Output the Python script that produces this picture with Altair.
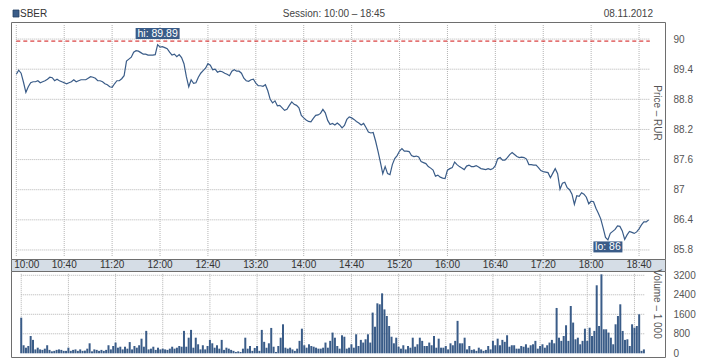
import altair as alt
import pandas as pd

# ---------------- data ----------------
symbol = "SBER"
session_label = "Session: 10:00 – 18:45"
date_label = "08.11.2012"
trade_day = "2012-11-08"
series_start = "10:00"
step_minutes = 2

prices = [
    89.30, 89.38, 89.32, 89.14, 88.94, 89.05, 89.13, 89.15, 89.15, 89.17,
    89.13, 89.15, 89.17, 89.20, 89.24, 89.23, 89.17, 89.20, 89.17, 89.15,
    89.13, 89.11, 89.13, 89.15, 89.19, 89.15, 89.17, 89.19, 89.19, 89.19,
    89.22, 89.25, 89.24, 89.22, 89.17, 89.17, 89.15, 89.11, 89.09, 89.05,
    89.04, 89.11, 89.17, 89.17, 89.21, 89.27, 89.56, 89.60, 89.64, 89.74,
    89.77, 89.76, 89.73, 89.70, 89.70, 89.68, 89.68, 89.68, 89.69, 89.89,
    89.84, 89.85, 89.83, 89.81, 89.74, 89.68, 89.70, 89.65, 89.69, 89.63,
    89.51, 89.25, 89.05, 89.19, 89.12, 89.13, 89.24, 89.32, 89.37, 89.42,
    89.51, 89.48, 89.39, 89.40, 89.34, 89.36, 89.35, 89.32, 89.30,
    89.27, 89.36, 89.39, 89.36, 89.36, 89.32, 89.22, 89.17, 89.16, 89.19,
    89.20, 89.12, 89.07, 89.07, 89.06, 89.09, 88.97, 88.80, 88.73, 88.77,
    88.67, 88.68, 88.63, 88.58, 88.60, 88.68, 88.75, 88.70, 88.68, 88.63,
    88.48, 88.43, 88.39, 88.36, 88.35, 88.42, 88.48, 88.49, 88.52, 88.60,
    88.53, 88.38, 88.30, 88.32, 88.29, 88.33, 88.29, 88.23, 88.28, 88.40,
    88.45, 88.43, 88.40, 88.36, 88.33, 88.29, 88.32, 88.24, 88.15, 88.13,
    88.14, 87.97, 87.77, 87.55, 87.32, 87.46, 87.32, 87.30, 87.50, 87.62,
    87.68, 87.77, 87.82, 87.77, 87.77, 87.76, 87.68, 87.66, 87.67, 87.65,
    87.56, 87.54, 87.52, 87.46, 87.43, 87.39, 87.27, 87.29, 87.25, 87.23,
    87.22, 87.39, 87.42, 87.44, 87.55, 87.50, 87.46, 87.43, 87.40, 87.47,
    87.49, 87.46, 87.46, 87.48, 87.45, 87.42, 87.41, 87.40, 87.42, 87.40,
    87.42, 87.48, 87.62, 87.64, 87.59, 87.59, 87.64, 87.70, 87.74, 87.70,
    87.66, 87.64, 87.65, 87.64, 87.61, 87.50, 87.50, 87.49, 87.49, 87.44,
    87.38, 87.36, 87.35, 87.34, 87.24, 87.33, 87.42, 87.32, 87.01, 87.13,
    87.15, 87.04, 87.00, 86.91, 86.71, 86.88, 86.87, 86.94, 86.91, 86.85,
    86.72, 86.77, 86.76, 86.63, 86.53, 86.42, 86.24, 86.05, 86.00, 86.13,
    86.17, 86.21, 86.28, 86.27, 86.18, 86.01, 86.10, 86.17, 86.15, 86.13,
    86.16, 86.22, 86.30, 86.36, 86.36, 86.40,
]

volumes = [
    1460, 330, 230, 300, 710, 550, 160, 230, 160, 140,
    190, 330, 140, 80, 100, 140, 160, 140, 100, 100,
    230, 100, 140, 160, 100, 160, 100, 110, 190, 410,
    80, 160, 140, 100, 140, 100, 140, 330, 160, 300,
    440, 230, 270, 160, 270, 190, 460, 160, 300, 230,
    330, 600, 270, 920, 160, 190, 270, 140, 230, 160,
    190, 160, 140, 190, 270, 190, 230, 300, 270, 920,
    270, 640, 960, 230, 640, 370, 160, 330, 160, 300,
    550, 410, 230, 330, 190, 550, 140, 230, 190,
    140, 100, 55, 80, 55, 190, 640, 190, 300, 100,
    220, 300, 100, 960, 470, 230, 410, 1040, 270, 55,
    300, 640, 1190, 230, 190, 230, 160, 100, 190, 510,
    1010, 330, 230, 370, 300, 270, 230, 190, 190, 230,
    440, 230, 510, 850, 640, 300, 190, 740, 680, 190,
    230, 370, 230, 780, 300, 550, 440, 575, 780, 440,
    1670, 1090, 2050, 2010, 2460, 1800, 1530, 1120, 680, 410,
    640, 270, 190, 330, 160, 300, 230, 640, 270, 370,
    640, 510, 300, 300, 440, 330, 710, 230, 600, 230,
    230, 300, 160, 410, 330, 510, 1330, 410, 410, 640,
    160, 300, 140, 160, 100, 230, 160, 100, 140, 300,
    160, 510, 330, 600, 330, 550, 470, 740, 270, 330,
    330, 190, 190, 300, 270, 370, 230, 330, 370, 510,
    190, 300, 370, 230, 330, 440, 550, 410, 1860, 640,
    510, 710, 1150, 510, 1940, 1260, 575, 640, 370, 510,
    1010, 510, 1050, 710, 920, 2790, 1120, 3240, 985, 985,
    850, 640, 370, 1190, 1530, 2010, 917, 550, 575, 300,
    1190, 1050, 1120, 1600, 100, 160,
]

time_ticks = ["10:00", "10:40", "11:20", "12:00", "12:40", "13:20", "14:00",
              "14:40", "15:20", "16:00", "16:40", "17:20", "18:00", "18:40"]
price_ticks = [85.8, 86.4, 87.0, 87.6, 88.2, 88.8, 89.4, 90.0]
volume_ticks = [0, 800, 1600, 2400, 3200]
volume_grid = [800, 1600, 2400, 3200]

hi_time, hi_value, hi_label = "11:58", 89.89, "hi: 89.89"
lo_time, lo_value, lo_label = "18:14", 86.00, "lo: 86"
ref_level = 89.96
grid_from, grid_to = "10:00", "18:49"

price_title = "Price – RUR"
volume_title = "Volume – 1 000"

# ---------------- styling ----------------
FONT = "Liberation Sans, Arial, sans-serif"
BLUE = "#3a5c88"
GRID = "#b4b4b4"
FRAME = "#6e6e6e"
LABEL = "#555555"
W = 654


def ts(hhmm):
    return f"{trade_day}T{hhmm}:00Z"


def dt(h, m, s=0):
    return alt.DateTime(year=2012, month=11, date=8, hours=h, minutes=m,
                        seconds=s, utc=True)


assert len(prices) == len(volumes)
times = pd.date_range(f"{trade_day} {series_start}", periods=len(prices),
                      freq=f"{step_minutes}min")
series = pd.DataFrame({"t": times.strftime("%Y-%m-%dT%H:%M:%SZ"),
                       "p": prices, "v": volumes})

tick_df = pd.DataFrame({"t": [ts(s) for s in time_ticks], "lab": time_ticks})

xscale = alt.Scale(domain=[dt(9, 55, 34), dt(19, 1, 40)])
X = alt.X("t:T", scale=xscale, axis=None)

# ---------------- price panel ----------------
pscale = alt.Scale(domain=[85.62, 90.34], nice=False, zero=False)
paxis = alt.Axis(orient="right", values=price_ticks, format="~g", ticks=False,
                 tickSize=0, domain=False, grid=False, labelPadding=8,
                 labelFontSize=10, labelColor=LABEL, labelFont=FONT, title=None)


def PY(field):
    return alt.Y(field, scale=pscale, axis=paxis, title=None)


pgrid_v = alt.Chart(tick_df.assign(y0=90.28, y1=85.66)).mark_rule(
    color=GRID, strokeDash=[1, 1], strokeWidth=1).encode(
    x=X, y=PY("y0:Q"), y2="y1:Q")

pgrid_h = alt.Chart(pd.DataFrame({"g": price_ticks, "t0": ts(grid_from),
                                  "t1": ts(grid_to)})).mark_rule(
    color=GRID, strokeDash=[1, 1], strokeWidth=1).encode(
    x=alt.X("t0:T", scale=xscale, axis=None), x2="t1:T", y=PY("g:Q"))

ref_rule = alt.Chart(pd.DataFrame({"r": [ref_level], "t0": [ts(grid_from)],
                                   "t1": [ts(grid_to)]})).mark_rule(
    color="#d01010", strokeDash=[4, 3], strokeWidth=1).encode(
    x=alt.X("t0:T", scale=xscale, axis=None), x2="t1:T", y=PY("r:Q"))

pline = alt.Chart(series).mark_line(color=BLUE, strokeWidth=1.2).encode(
    x=X, y=PY("p:Q"))

hi_df = pd.DataFrame({"t": [ts(hi_time)], "p": [hi_value], "lab": [hi_label]})
lo_df = pd.DataFrame({"t": [ts(lo_time)], "p": [lo_value], "lab": [lo_label]})

hi_box = alt.Chart(hi_df).mark_rect(color=BLUE, width=44, height=11,
                                    yOffset=-11).encode(x=X, y=PY("p:Q"))
hi_txt = alt.Chart(hi_df).mark_text(color="white", font=FONT, fontSize=10.5,
                                    baseline="middle", yOffset=-10.5).encode(
    x=X, y=PY("p:Q"), text="lab:N")
lo_box = alt.Chart(lo_df).mark_rect(color=BLUE, width=29, height=11,
                                    yOffset=7).encode(x=X, y=PY("p:Q"))
lo_txt = alt.Chart(lo_df).mark_text(color="white", font=FONT, fontSize=10.5,
                                    baseline="middle", yOffset=7.5).encode(
    x=X, y=PY("p:Q"), text="lab:N")

one = pd.DataFrame({"sym": [symbol], "ses": [session_label],
                    "day": [date_label], "pt": [price_title],
                    "vt": [volume_title]})

hdr_sq = alt.Chart(one).mark_rect(color=BLUE, stroke="#243f63",
                                  strokeWidth=0.8).encode(
    x=alt.value(2), x2=alt.value(8), y=alt.value(-12), y2=alt.value(-5))
hdr_sym = alt.Chart(one).mark_text(align="left", baseline="middle", font=FONT,
                                   fontSize=10, color="#333").encode(
    x=alt.value(9), y=alt.value(-8.5), text="sym:N")
hdr_ses = alt.Chart(one).mark_text(align="center", baseline="middle", font=FONT,
                                   fontSize=10, color="#444").encode(
    x=alt.value(323), y=alt.value(-8.5), text="ses:N")
hdr_day = alt.Chart(one).mark_text(align="right", baseline="middle", font=FONT,
                                   fontSize=10, color="#444").encode(
    x=alt.value(642), y=alt.value(-8.5), text="day:N")
ptitle = alt.Chart(one).mark_text(angle=90, align="center", baseline="middle",
                                  font=FONT, fontSize=10, color=LABEL).encode(
    x=alt.value(646), y=alt.value(91), text="pt:N")

price = alt.layer(pgrid_v, pgrid_h, ref_rule, pline, hi_box, hi_txt, lo_box,
                  lo_txt, hdr_sq, hdr_sym, hdr_ses, hdr_day, ptitle).properties(
    width=W, height=237)

# ---------------- time band ----------------
band_rest = alt.Chart(tick_df.iloc[1:]).mark_text(
    align="center", baseline="middle", font=FONT, fontSize=10,
    color="#333").encode(x=X, y=alt.value(6), text="lab:N")
band_first = alt.Chart(tick_df.iloc[:1]).mark_text(
    align="left", baseline="middle", font=FONT, fontSize=10, color="#333",
    dx=-2).encode(x=X, y=alt.value(6), text="lab:N")
band = alt.layer(band_first, band_rest).properties(
    width=W, height=12, view=alt.ViewBackground(fill="#d5dde6", stroke=FRAME))

# ---------------- volume panel ----------------
vscale = alt.Scale(domain=[-152, 3376], nice=False, zero=False)
vaxis = alt.Axis(orient="right", values=volume_ticks, format="d", ticks=False,
                 tickSize=0, domain=False, grid=False, labelPadding=8,
                 labelFontSize=10, labelColor=LABEL, labelFont=FONT, title=None)


def VY(field):
    return alt.Y(field, scale=vscale, axis=vaxis, title=None)


vgrid_v = alt.Chart(tick_df.assign(y0=3260, y1=0)).mark_rule(
    color=GRID, strokeDash=[1, 1], strokeWidth=1).encode(
    x=X, y=VY("y0:Q"), y2="y1:Q")
vgrid_h = alt.Chart(pd.DataFrame({"g": volume_grid, "t0": ts(grid_from),
                                  "t1": ts(grid_to)})).mark_rule(
    color=GRID, strokeDash=[1, 1], strokeWidth=1).encode(
    x=alt.X("t0:T", scale=xscale, axis=None), x2="t1:T", y=VY("g:Q"))
vbars = alt.Chart(series).mark_bar(color=BLUE, width=2.0).encode(
    x=X, y=VY("v:Q"))
vtitle = alt.Chart(one).mark_text(angle=90, align="center", baseline="middle",
                                  font=FONT, fontSize=10, color=LABEL).encode(
    x=alt.value(646), y=alt.value(33), text="vt:N")

volume = alt.layer(vgrid_v, vgrid_h, vbars, vtitle).properties(
    width=W, height=86)

chart = alt.vconcat(price, band, volume, spacing=0, bounds="flush").properties(
    padding={"left": 2, "top": 0, "right": 4, "bottom": 0}
).configure(font=FONT).configure_view(stroke=FRAME, strokeWidth=1, fill="white")

chart.save("out.html", embed_options={"renderer": "svg", "actions": False})
